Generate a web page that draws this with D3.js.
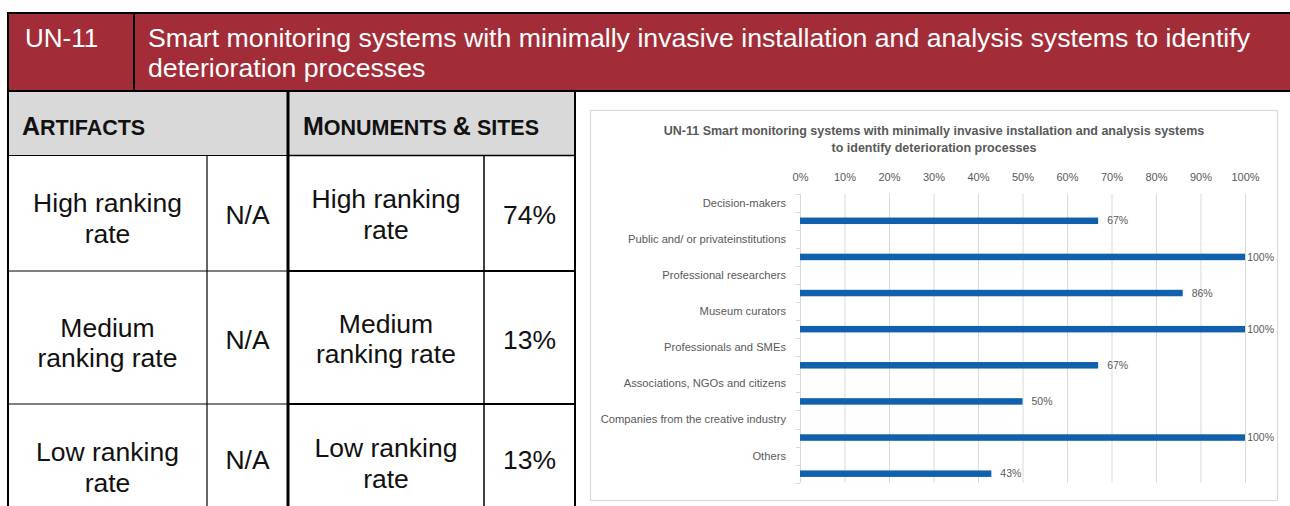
<!DOCTYPE html>
<html>
<head>
<meta charset="utf-8">
<script src="https://cdn.jsdelivr.net/npm/d3@7"></script>
<style>
  html, body { margin: 0; padding: 0; background: #fff; }
  svg { display: block; }
  .sheet text { font-family: "Liberation Sans", Arial, sans-serif; }
  .chart text { font-family: "Liberation Sans Narrow", "Liberation Sans", Arial, sans-serif; }
</style>
</head>
<body>
<svg id="fig" width="1290" height="506"></svg>
<script>
// ---- Data ----
const codeLabel = "UN-11";
const titleLines = [
  "Smart monitoring systems with minimally invasive installation and analysis systems to identify",
  "deterioration processes"
];
const groupHeaders = ["Artifacts", "Monuments & sites"];
const rankLines = [
  ["High ranking", "rate"],
  ["Medium", "ranking rate"],
  ["Low ranking", "rate"]
];
const artifactsValues = ["N/A", "N/A", "N/A"];
const monumentsValues = ["74%", "13%", "13%"];

const chartTitle = [
  "UN-11 Smart monitoring systems with minimally invasive installation and analysis systems",
  "to identify deterioration processes"
];
const categories = [
  "Decision-makers",
  "Public and/ or privateinstitutions",
  "Professional researchers",
  "Museum curators",
  "Professionals and SMEs",
  "Associations, NGOs and citizens",
  "Companies from the creative industry",
  "Others"
];
const values = [0.67, 1.00, 0.86, 1.00, 0.67, 0.50, 1.00, 0.43];
const xTicks = [0, 0.1, 0.2, 0.3, 0.4, 0.5, 0.6, 0.7, 0.8, 0.9, 1.0];

// ---- Drawing ----
const svg = d3.select("#fig");
const RED = "#a22d38", GREY = "#d9d9d9", INK = "#000";

// Table
const sheet = svg.append("g").attr("class", "sheet");
const L = 8, R = 575, colA = 207, colM = 288, colV = 484;
const hTop = 13, hBot = 91, gBot = 155.5;
const rowEdges = [155.5, 271, 404, 520];
const BODY = 26.5;

// header band
sheet.append("rect").attr("x", L).attr("y", hTop).attr("width", 1300 - L).attr("height", hBot - hTop)
  .attr("fill", RED).attr("stroke", INK).attr("stroke-width", 2);
sheet.append("line").attr("x1", 134).attr("x2", 134).attr("y1", hTop).attr("y2", hBot)
  .attr("stroke", INK).attr("stroke-width", 2);
sheet.append("text").attr("x", 25).attr("y", 47).attr("fill", "#fff").attr("font-size", 26)
  .text(codeLabel);
sheet.append("g").selectAll("text").data(titleLines).join("text")
  .attr("x", 148).attr("y", (d, i) => 47 + i * 30).attr("fill", "#fff").attr("font-size", 26.7)
  .text(d => d);

// grey group header row
sheet.append("rect").attr("x", L).attr("y", hBot + 1).attr("width", R - L).attr("height", gBot - hBot - 1)
  .attr("fill", GREY);

// small-caps group labels
function smallCaps(sel, str) {
  const words = str.split(/(\s+)/);
  words.forEach(w => {
    if (!w.trim()) { sel.append("tspan").attr("font-size", 21.5).text(w); return; }
    const first = w[0], rest = w.slice(1);
    const isSym = !/[a-z]/i.test(first);
    sel.append("tspan").attr("font-size", isSym || w === words[0] ? 25 : 21.5).text(first.toUpperCase());
    if (rest) sel.append("tspan").attr("font-size", 21.5).text(rest.toUpperCase());
  });
}
[[22, groupHeaders[0]], [303, groupHeaders[1]]].forEach(([x, s]) => {
  const t = sheet.append("text").attr("x", x).attr("y", 135).attr("font-weight", "bold").attr("fill", "#111");
  smallCaps(t, s);
});

// body cells
const colCentres = [(L + colA) / 2, (colA + colM) / 2, (colM + colV) / 2, (colV + R) / 2];
rankLines.forEach((lines, r) => {
  const mid = (rowEdges[r] + rowEdges[r + 1]) / 2;
  [[colCentres[0], 4], [colCentres[2], 0]].forEach(([cx, off]) => {
    lines.forEach((ln, k) => {
      sheet.append("text").attr("x", cx).attr("y", mid + off - 5 + k * 30.5)
        .attr("text-anchor", "middle").attr("font-size", BODY).attr("fill", "#111").text(ln);
    });
  });
  sheet.append("text").attr("x", colCentres[1]).attr("y", mid + 11 + (r === 2 ? -4 : 0))
    .attr("text-anchor", "middle").attr("font-size", BODY).attr("fill", "#111").text(artifactsValues[r]);
  sheet.append("text").attr("x", colCentres[3]).attr("y", mid + 11 + (r === 2 ? -4 : 0))
    .attr("text-anchor", "middle").attr("font-size", BODY).attr("fill", "#111").text(monumentsValues[r]);
});

// grid lines of the table
const ln = (x1, y1, x2, y2, w) => sheet.append("line").attr("x1", x1).attr("y1", y1).attr("x2", x2).attr("y2", y2)
  .attr("stroke", INK).attr("stroke-width", w);
ln(L, hBot, L, 506, 2);
ln(colM, hBot, colM, 506, 3);
ln(R, hBot, R, 506, 2);
ln(colA, gBot, colA, 506, 1.2);
ln(colV, gBot, colV, 506, 1.5);
ln(L, gBot, colM, gBot, 1.2);
ln(colM, gBot, R, gBot, 1.5);
[271, 404].forEach(y => { ln(L, y, colM, y, 1.2); ln(colM, y, R, y, 2); });

// ---- Bar chart ----
const chart = svg.append("g").attr("class", "chart");
chart.append("rect").attr("x", 590.5).attr("y", 110.5).attr("width", 687).attr("height", 390)
  .attr("fill", "#fff").attr("stroke", GREY).attr("stroke-width", 1.2);

chart.append("g").selectAll("text").data(chartTitle).join("text")
  .attr("x", 934).attr("y", (d, i) => 134.5 + i * 17)
  .attr("text-anchor", "middle").attr("font-size", 12.5).attr("font-weight", "bold").attr("fill", "#595959")
  .text(d => d);

const x = d3.scaleLinear().domain([0, 1]).range([800, 1245]);
// each category takes two slots: its label, then its bar
const slots = d3.range(categories.length * 2);
const y = d3.scaleBand().domain(slots).range([193.7, 482.7]).padding(0);
const bw = y.bandwidth();

// vertical gridlines
chart.append("g").selectAll("line").data(xTicks).join("line")
  .attr("x1", d => x(d) + 0.5).attr("x2", d => x(d) + 0.5)
  .attr("y1", y.range()[0]).attr("y2", y.range()[1])
  .attr("stroke", GREY).attr("stroke-width", 1);

// top percentage axis
const xAxis = d3.axisTop(x).tickValues(xTicks).tickFormat(d3.format(".0%")).tickSize(0).tickPadding(0);
const gx = chart.append("g").attr("transform", "translate(0,181)").call(xAxis);
gx.select(".domain").remove();
gx.selectAll("text").attr("font-size", 11).attr("fill", "#595959")
  .attr("font-family", "\"Liberation Sans Narrow\", \"Liberation Sans\", Arial, sans-serif");

// category tick marks at slot edges
const edges = slots.map(s => y(s)).concat([y.range()[1]]);
chart.append("g").selectAll("line").data(edges).join("line")
  .attr("x1", 796).attr("x2", 800).attr("y1", d => Math.round(d) + 0.5).attr("y2", d => Math.round(d) + 0.5)
  .attr("stroke", GREY).attr("stroke-width", 1);

// category labels
chart.append("g").selectAll("text").data(categories).join("text")
  .attr("x", 786).attr("y", (d, i) => y(2 * i) + bw / 2)
  .attr("dy", "0.35em").attr("text-anchor", "end")
  .attr("font-size", 11.2).attr("fill", "#595959")
  .text(d => d);

// bars
const barH = 6.5;
chart.append("g").selectAll("rect").data(values).join("rect")
  .attr("x", x(0)).attr("y", (d, i) => y(2 * i + 1) + bw / 2 - barH / 2)
  .attr("width", d => x(d) - x(0)).attr("height", barH)
  .attr("fill", "#1160ab");

// value labels
const vl = chart.append("g").selectAll("text").data(values).join("text")
  .attr("y", (d, i) => y(2 * i + 1) + bw / 2).attr("dy", "0.35em")
  .attr("font-size", 10.5).attr("fill", "#595959")
  .text(d => d3.format(".0%")(d));
vl.attr("x", function (d) {
  const w = this.getComputedTextLength();
  return Math.min(x(d) + 9, 1274 - w);
});
</script>
</body>
</html>
